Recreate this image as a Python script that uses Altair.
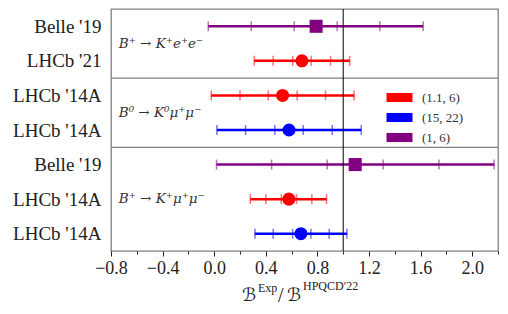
import json
import altair as alt
import pandas as pd

# ---------------- data ----------------
row_labels = ["Belle '19", "LHCb '21", "LHCb '14A", "LHCb '14A", "Belle '19", "LHCb '14A", "LHCb '14A"]
bins = ["(1, 6)", "(1.1, 6)", "(1.1, 6)", "(15, 22)", "(1, 6)", "(1.1, 6)", "(15, 22)"]
central = [0.79, 0.68, 0.53, 0.58, 1.093, 0.579, 0.672]
lo5 = [-0.046, 0.31, -0.023, 0.021, 0.018, 0.28, 0.316]
lo3 = [0.287, 0.457, 0.20, 0.243, 0.445, 0.40, 0.457]
lo1 = [0.62, 0.608, 0.419, 0.47, 0.876, 0.52, 0.608]
hi1 = [0.953, 0.752, 0.643, 0.69, 1.31, 0.638, 0.75]
hi3 = [1.284, 0.902, 0.863, 0.915, 1.742, 0.757, 0.891]
hi5 = [1.62, 1.05, 1.085, 1.14, 2.17, 0.871, 1.029]

bin_order = ["(1.1, 6)", "(15, 22)", "(1, 6)"]
bin_colors = ["#ff0000", "#0000ff", "#800080"]
square_bin = "(1, 6)"

separators = [2, 4]
ref_line = [1.0]

channels = ["B⁺ → K⁺e⁺e⁻", "B⁰ → K⁰μ⁺μ⁻", "B⁺ → K⁺μ⁺μ⁻"]
channel_rows = [1.0, 3.0, 5.5]
channel_x = [-0.74, -0.74, -0.74]

x_major = [-0.8, -0.4, 0.0, 0.4, 0.8, 1.2, 1.6, 2.0]
x_minor = [-0.6, -0.2, 0.2, 0.6, 1.0, 1.4, 1.8, 2.2]

# ---------------- tables ----------------
rows = [i + 0.5 for i in range(len(row_labels))]
df = pd.DataFrame({"row": rows, "label": row_labels, "bin": bins, "central": central,
                   "lo5": lo5, "hi5": hi5})
caps = []
for i in range(len(rows)):
    for v in (lo5[i], lo3[i], lo1[i], hi1[i], hi3[i], hi5[i]):
        caps.append({"row": rows[i], "bin": bins[i], "x": v})
caps_df = pd.DataFrame(caps)
sep_df = pd.DataFrame({"y": separators})
ref_df = pd.DataFrame({"x": ref_line})
ann_df = pd.DataFrame({"x": channel_x, "row": channel_rows, "t": channels})

W, H = 387, 242
xs = alt.Scale(domain=[-0.8, 2.2], nice=False, zero=False)
ys = alt.Scale(domain=[0, 7], nice=False, zero=False, reverse=True)
cs = alt.Scale(domain=bin_order, range=bin_colors)

SERIF = "Liberation Serif"

label_expr = json.dumps(row_labels) + "[floor(datum.value)]"
y_axis = alt.Axis(values=rows, labelExpr=label_expr, ticks=False, domain=False,
                  grid=False, title=None, labelFont=SERIF, labelFontSize=19,
                  labelPadding=10, labelColor="#222")
legend = alt.Legend(
    title=None, orient="none", legendX=282, legendY=82, padding=0,
    symbolType="M-2,-0.7L2,-0.7L2,0.7L-2,0.7Z", symbolSize=169,
    symbolStrokeWidth=0, symbolOpacity=1, labelOffset=16, rowPadding=6,
    labelFont=SERIF, labelFontSize=13, labelColor="#333")
color_enc = alt.Color("bin:N", scale=cs, legend=legend)

seps = alt.Chart(sep_df).mark_rule(color="#808080", strokeWidth=1.3).encode(
    y=alt.Y("y:Q", scale=ys, axis=y_axis))

bars = alt.Chart(df).mark_rule(strokeWidth=2.5).encode(
    x=alt.X("lo5:Q", scale=xs,
            axis=alt.Axis(values=x_major, format=".1f", orient="bottom", tickSize=5,
                          labelFontSize=18, labelFont=SERIF, labelPadding=3,
                          domain=False, grid=False, title=None, tickColor="#222",
                          labelColor="#222", labelFlush=False)),
    x2="hi5:Q",
    y=alt.Y("row:Q", scale=ys, axis=y_axis),
    color=color_enc,
)

minor_axis = alt.Chart(caps_df).mark_tick(orient="vertical", size=10, thickness=1.5, opacity=0.55).encode(
    x=alt.X("x:Q", scale=xs,
            axis=alt.Axis(values=x_minor, labels=False, orient="bottom", tickSize=3,
                          domain=False, grid=False, title=None, tickColor="#222")),
    y=alt.Y("row:Q", scale=ys, axis=y_axis),
    color=color_enc,
)

vline = alt.Chart(ref_df).mark_rule(color="black", strokeWidth=1).encode(
    x=alt.X("x:Q", scale=xs, axis=None))

points = alt.Chart(df).transform_calculate(
    mk=f"datum.bin === '{square_bin}' ? 'square' : 'circle'"
).mark_point(filled=True, opacity=1, size=170).encode(
    x=alt.X("central:Q", scale=xs, axis=None),
    y=alt.Y("row:Q", scale=ys, axis=y_axis),
    color=color_enc,
    shape=alt.Shape("mk:N", scale=None, legend=None),
)

ann = alt.Chart(ann_df).mark_text(align="left", baseline="middle", font="DejaVu Serif",
                                   fontStyle="italic", fontSize=13.5, color="#333").encode(
    x=alt.X("x:Q", scale=xs, axis=None),
    y=alt.Y("row:Q", scale=ys, axis=y_axis),
    text="t:N")

def title_piece(txt, px, py, size, font=SERIF):
    return alt.Chart(pd.DataFrame({"t": [txt]})).mark_text(
        align="left", baseline="alphabetic", font=font, fontSize=size, color="#222").encode(
        text="t:N", x=alt.value(px), y=alt.value(py))

title_layers = [
    title_piece("ℬ", 131, 292, 18, "DejaVu Sans"),
    title_piece("Exp", 147, 283, 12),
    title_piece("/", 167, 293, 20),
    title_piece("ℬ", 176, 292, 18, "DejaVu Sans"),
    title_piece("HPQCD′22", 192, 281, 12),
]

chart = alt.layer(seps, bars, minor_axis, vline, points, ann, *title_layers).resolve_axis(
    x="independent"
).properties(
    width=W, height=H,
    autosize=alt.AutoSizeParams(type="none"),
    padding={"left": 103, "top": 1, "right": 2, "bottom": 55},
).configure_view(stroke="#808080", strokeWidth=1.3)

chart.save("out.html", embed_options={"renderer": "svg", "actions": False})
